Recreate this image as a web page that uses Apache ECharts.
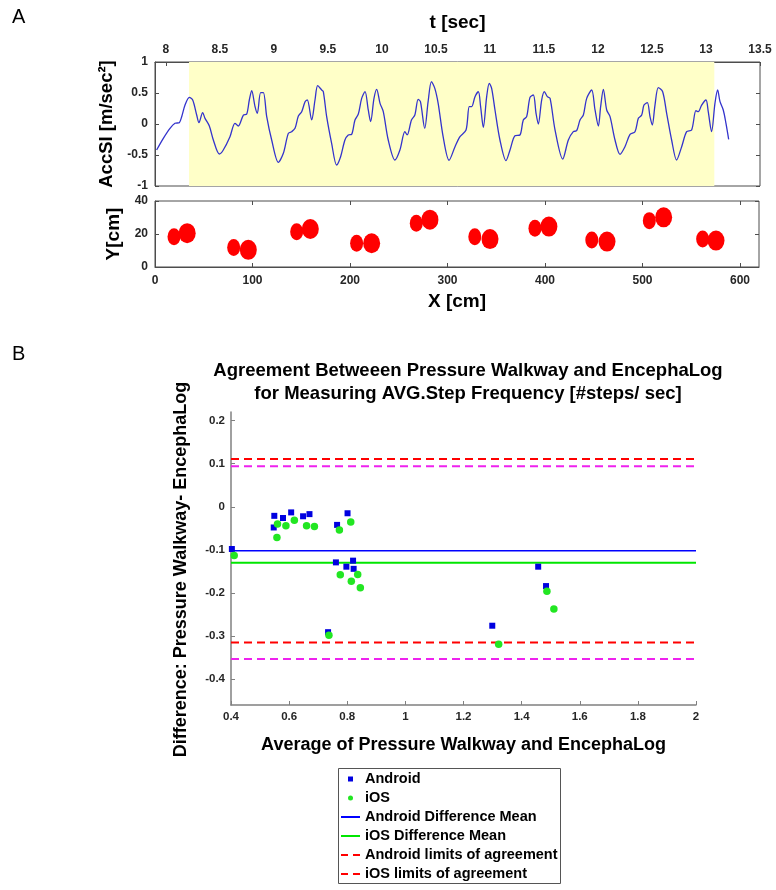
<!DOCTYPE html>
<html><head><meta charset="utf-8">
<script src="https://cdn.jsdelivr.net/npm/echarts@6/dist/echarts.min.js"></script>
<style>html,body{margin:0;padding:0;background:#fff}#c{width:776px;height:890px}</style>
</head><body><div id="c"></div>
<script>
// ---------- Panel A (top): acceleration signal ----------
const tSec = [7.915,7.977,8.039,8.085,8.125,8.147,8.178,8.218,8.249,8.286,8.307,8.341,8.363,8.403,8.440,8.496,8.532,8.594,8.640,8.671,8.718,8.749,8.773,8.795,8.826,8.847,8.878,8.903,8.934,8.980,9.042,9.088,9.134,9.165,9.196,9.227,9.258,9.289,9.310,9.350,9.381,9.406,9.443,9.458,9.489,9.535,9.581,9.618,9.658,9.689,9.720,9.751,9.782,9.813,9.844,9.874,9.896,9.927,9.952,9.983,10.013,10.059,10.121,10.167,10.213,10.234,10.274,10.305,10.336,10.357,10.397,10.428,10.459,10.490,10.521,10.567,10.622,10.677,10.723,10.779,10.809,10.831,10.862,10.893,10.914,10.939,10.970,10.994,11.016,11.047,11.093,11.149,11.186,11.232,11.278,11.309,11.340,11.371,11.402,11.427,11.448,11.479,11.504,11.532,11.557,11.603,11.674,11.726,11.772,11.803,11.834,11.865,11.896,11.942,11.973,12.004,12.025,12.050,12.081,12.112,12.158,12.204,12.250,12.297,12.343,12.374,12.405,12.426,12.457,12.482,12.503,12.528,12.559,12.599,12.636,12.682,12.728,12.775,12.821,12.867,12.907,12.929,12.960,13.000,13.021,13.052,13.083,13.108,13.130,13.160,13.185,13.210];
const accSI = [-0.419,-0.231,-0.070,0.011,0.022,0.118,0.306,0.430,0.387,0.145,0.022,0.183,0.091,-0.032,-0.258,-0.484,-0.419,-0.204,0.011,-0.032,0.145,0.161,0.387,0.538,0.280,0.172,0.505,0.505,0.118,-0.258,-0.618,-0.473,-0.151,-0.124,-0.070,0.129,0.199,0.360,0.387,0.065,0.387,0.618,0.548,0.522,0.118,-0.312,-0.661,-0.527,-0.258,-0.177,-0.167,0.065,0.161,0.414,0.521,0.226,0.038,0.414,0.559,0.333,0.199,-0.258,-0.581,-0.419,-0.124,-0.177,0.065,0.145,0.398,0.360,-0.070,0.360,0.683,0.575,0.333,-0.204,-0.585,-0.366,-0.204,-0.097,0.280,0.280,0.441,0.521,0.280,-0.054,0.441,0.656,0.575,0.226,-0.258,-0.591,-0.419,-0.188,-0.177,0.065,0.118,0.430,0.468,0.172,0.000,0.387,0.521,0.441,0.414,-0.097,-0.565,-0.258,-0.124,-0.108,0.065,0.145,0.414,0.548,0.226,-0.032,0.280,0.559,0.226,0.118,-0.258,-0.489,-0.366,-0.167,-0.124,0.091,0.145,0.306,0.344,0.118,-0.016,0.306,0.586,0.521,0.172,-0.258,-0.581,-0.366,-0.124,-0.097,0.215,0.199,0.306,0.387,0.199,-0.124,0.333,0.548,0.360,0.226,0.011,-0.247];
const highlightWindow = [8.215, 13.077];
const tTicks = [8, 8.5, 9, 9.5, 10, 10.5, 11, 11.5, 12, 12.5, 13, 13.5];

// ---------- Panel A (bottom): footprints ----------
const heelX = [19.5, 80.7, 145.3, 206.8, 268, 328, 389.7, 448, 507, 561.7];
const heelY = [18.4, 11.8, 21.4, 14.4, 26.5, 18.4, 23.5, 16.4, 28.1, 17];
const toeX  = [33, 95.7, 159.3, 222.2, 282, 343.6, 404, 463.6, 521.7, 575.4];
const toeY  = [20.5, 10.4, 23, 14.4, 28.7, 16.9, 24.5, 15.4, 30.1, 16];
const cmTicks = [0, 100, 200, 300, 400, 500, 600];

// ---------- Panel B: Bland-Altman ----------
const androidAvg  = [0.403,0.547,0.549,0.579,0.607,0.648,0.670,0.765,0.801,0.761,0.797,0.820,0.822,0.734,1.299,1.457,1.484];
const androidDiff = [-0.098,-0.048,-0.021,-0.026,-0.013,-0.022,-0.017,-0.042,-0.015,-0.129,-0.139,-0.125,-0.144,-0.291,-0.276,-0.139,-0.184];
const iosAvg  = [0.411,0.558,0.560,0.589,0.618,0.660,0.687,0.773,0.812,0.776,0.814,0.836,0.845,0.737,1.321,1.487,1.511];
const iosDiff = [-0.113,-0.071,-0.040,-0.044,-0.031,-0.044,-0.046,-0.054,-0.035,-0.158,-0.173,-0.157,-0.188,-0.298,-0.319,-0.196,-0.237];
const androidMean = -0.102;
const iosMean = -0.130;
const androidLoA = [0.111, -0.315];
const iosLoA = [0.094, -0.353];
const baX = [0.4, 2];
const baDiffTicks = [-0.4, -0.3, -0.2, -0.1, 0, 0.1, 0.2];

const FONT = "'Liberation Sans', Arial, Helvetica, sans-serif";
const lab = (size, extra) => Object.assign({fontFamily: FONT, fontWeight: 'bold', fontSize: size, color: '#262626'}, extra || {});
const BOX = '#4d4d4d';
const AX = '#808080';
const ellipse = 'path://M0,10 A10,10 0 1,1 20,10 A10,10 0 1,1 0,10 Z';
const solidIcon = 'path://M0,0h19v2h-19z';
const dashIcon = 'path://M0,0h7v2h-7z M12,0h7v2h-7z';

const hline = (v) => [[baX[0], v], [baX[1], v]];

const chart = echarts.init(document.getElementById('c'), null, {renderer: 'canvas'});
const option = {
  animation: false,
  backgroundColor: '#ffffff',
  textStyle: {fontFamily: FONT},
  title: {
    text: 'Agreement Betweeen Pressure Walkway and EncephaLog\nfor Measuring AVG.Step Frequency [#steps/ sec]',
    left: 463, top: 354, textAlign: 'center',
    textStyle: lab(18.5, {color: '#000', lineHeight: 23})
  },
  graphic: [
    {type: 'text', left: 12, top: 7, style: {text: 'A', font: "20px " + FONT, fill: '#000'}},
    {type: 'text', left: 12, top: 344, style: {text: 'B', font: "20px " + FONT, fill: '#000'}},
    {type: 'rect', shape: {x: 338.5, y: 768.5, width: 222, height: 115}, style: {fill: 'none', stroke: '#555', lineWidth: 1}, z: 0}
  ],
  legend: [
    {orient: 'vertical', left: 348, top: 771, itemWidth: 5, itemHeight: 5, itemGap: 3, padding: 0,
     selectedMode: false,
     textStyle: lab(14.5, {color: '#000', lineHeight: 16, padding: [0, 0, 0, 7]}),
     data: [{name: 'Android', icon: 'rect'}, {name: 'iOS', icon: 'circle'}]},
    {orient: 'vertical', left: 341, top: 809, itemWidth: 19, itemHeight: 2, itemGap: 3, padding: 0,
     symbolKeepAspect: true, selectedMode: false,
     textStyle: lab(14.5, {color: '#000', lineHeight: 16}),
     data: [
       {name: 'Android Difference Mean', icon: solidIcon, itemStyle: {color: '#0000ff', borderWidth: 0}},
       {name: 'iOS Difference Mean', icon: solidIcon, itemStyle: {color: '#00e600', borderWidth: 0}},
       {name: 'Android limits of agreement', icon: dashIcon, itemStyle: {color: '#ff0000', borderWidth: 0}},
       {name: 'iOS limits of agreement', icon: dashIcon, itemStyle: {color: '#ff0000', borderWidth: 0}}
     ]}
  ],
  grid: [
    {left: 155, top: 62, width: 605, height: 124, show: true, borderColor: BOX, borderWidth: 1, backgroundColor: 'transparent'},
    {left: 155, top: 201, width: 604, height: 66, show: true, borderColor: BOX, borderWidth: 1, backgroundColor: 'transparent'},
    {left: 231, top: 412, width: 465, height: 293}
  ],
  xAxis: [
    {gridIndex: 0, type: 'value', position: 'top', min: 7.9, max: 13.5,
     name: 't [sec]', nameLocation: 'middle', nameGap: 30, nameTextStyle: lab(19, {color: '#000'}),
     axisLine: {show: true, onZero: false, lineStyle: {color: BOX}},
     axisTick: {show: true, inside: true, length: 4, customValues: tTicks, lineStyle: {color: BOX}},
     axisLabel: Object.assign({customValues: tTicks, margin: 6}, lab(12)),
     splitLine: {show: false}},
    {gridIndex: 1, type: 'value', position: 'bottom', min: 0, max: 619.5,
     name: 'X [cm]', nameLocation: 'middle', nameGap: 25, nameTextStyle: lab(19, {color: '#000'}),
     axisLine: {show: true, onZero: false, lineStyle: {color: BOX}},
     axisTick: {show: true, inside: true, length: 4, customValues: cmTicks, lineStyle: {color: BOX}},
     axisLabel: Object.assign({customValues: cmTicks, margin: 8}, lab(12)),
     splitLine: {show: false}},
    {gridIndex: 1, type: 'value', position: 'top', min: 0, max: 619.5,
     axisLine: {show: false, onZero: false},
     axisTick: {show: true, inside: true, length: 4, customValues: cmTicks, lineStyle: {color: BOX}},
     axisLabel: {show: false}, splitLine: {show: false}},
    {gridIndex: 2, type: 'value', position: 'bottom', min: baX[0], max: baX[1], interval: 0.2,
     name: 'Average of Pressure Walkway and EncephaLog', nameLocation: 'middle', nameGap: 31,
     nameTextStyle: lab(18, {color: '#000'}),
     axisLine: {show: true, onZero: false, lineStyle: {color: AX, width: 1.5}},
     axisTick: {show: true, inside: true, length: 4, lineStyle: {color: AX}},
     axisLabel: Object.assign({margin: 6}, lab(11.5)),
     splitLine: {show: false}}
  ],
  yAxis: [
    {gridIndex: 0, type: 'value', min: -1, max: 1, interval: 0.5,
     name: 'AccSI [m/sec²]', nameLocation: 'middle', nameGap: 27, nameTextStyle: lab(18.5, {color: '#000'}),
     axisLine: {show: true, onZero: false, lineStyle: {color: BOX}},
     axisTick: {show: true, inside: true, length: 4, lineStyle: {color: BOX}},
     axisLabel: Object.assign({margin: 7}, lab(12)),
     splitLine: {show: false}},
    {gridIndex: 0, type: 'value', position: 'right', min: -1, max: 1, interval: 0.5,
     axisLine: {show: false, onZero: false},
     axisTick: {show: true, inside: true, length: 4, lineStyle: {color: BOX}},
     axisLabel: {show: false}, splitLine: {show: false}},
    {gridIndex: 1, type: 'value', min: 0, max: 40, interval: 20,
     name: 'Y[cm]', nameLocation: 'middle', nameGap: 27, nameTextStyle: lab(19, {color: '#000'}),
     axisLine: {show: true, onZero: false, lineStyle: {color: BOX}},
     axisTick: {show: true, inside: true, length: 4, lineStyle: {color: BOX}},
     axisLabel: Object.assign({margin: 7}, lab(12)),
     splitLine: {show: false}},
    {gridIndex: 1, type: 'value', position: 'right', min: 0, max: 40, interval: 20,
     axisLine: {show: false, onZero: false},
     axisTick: {show: true, inside: true, length: 4, lineStyle: {color: BOX}},
     axisLabel: {show: false}, splitLine: {show: false}},
    {gridIndex: 2, type: 'value', min: -0.46, max: 0.22,
     name: 'Difference: Pressure Walkway- EncephaLog', nameLocation: 'middle', nameGap: 41,
     nameTextStyle: lab(18, {color: '#000', padding: [0, 22, 0, 0]}),
     axisLine: {show: true, onZero: false, lineStyle: {color: AX, width: 1.5}},
     axisTick: {show: true, inside: true, length: 4, customValues: baDiffTicks, lineStyle: {color: AX}},
     axisLabel: Object.assign({margin: 6, customValues: baDiffTicks}, lab(11.5)),
     splitLine: {show: false}}
  ],
  series: [
    {type: 'line', name: 'AccSI', xAxisIndex: 0, yAxisIndex: 0, z: 3,
     data: tSec.map((t, i) => [t, accSI[i]]),
     showSymbol: false, symbol: 'none', smooth: 0.3,
     lineStyle: {color: '#3333cc', width: 1.3},
     markArea: {silent: true, z: 1, itemStyle: {color: '#ffffc8'},
       data: [[{xAxis: highlightWindow[0]}, {xAxis: highlightWindow[1]}]]}},
    {type: 'scatter', name: 'heel', xAxisIndex: 1, yAxisIndex: 2,
     data: heelX.map((x, i) => [x, heelY[i]]),
     symbol: ellipse, symbolKeepAspect: false, symbolSize: [13, 17], itemStyle: {color: '#ff0000', opacity: 1}},
    {type: 'scatter', name: 'toe', xAxisIndex: 1, yAxisIndex: 2,
     data: toeX.map((x, i) => [x, toeY[i]]),
     symbol: ellipse, symbolKeepAspect: false, symbolSize: [17, 20], itemStyle: {color: '#ff0000', opacity: 1}},
    {type: 'line', name: 'Android Difference Mean', xAxisIndex: 3, yAxisIndex: 4, data: hline(androidMean),
     symbol: 'none', lineStyle: {color: '#0000ff', width: 1.6}, itemStyle: {color: '#0000ff'}},
    {type: 'line', name: 'iOS Difference Mean', xAxisIndex: 3, yAxisIndex: 4, data: hline(iosMean),
     symbol: 'none', lineStyle: {color: '#00e600', width: 2}, itemStyle: {color: '#00e600'}},
    {type: 'line', name: 'Android limits of agreement', xAxisIndex: 3, yAxisIndex: 4, data: hline(androidLoA[0]),
     symbol: 'none', lineStyle: {color: '#ff0000', width: 2, type: [8, 5]}, itemStyle: {color: '#ff0000'}},
    {type: 'line', name: 'Android limits of agreement', xAxisIndex: 3, yAxisIndex: 4, data: hline(androidLoA[1]),
     symbol: 'none', lineStyle: {color: '#ff0000', width: 2, type: [8, 5]}, itemStyle: {color: '#ff0000'}},
    {type: 'line', name: 'iOS limits of agreement', xAxisIndex: 3, yAxisIndex: 4, data: hline(iosLoA[0]),
     symbol: 'none', lineStyle: {color: '#ee22ee', width: 2, type: [8, 5]}, itemStyle: {color: '#ee22ee'}},
    {type: 'line', name: 'iOS limits of agreement', xAxisIndex: 3, yAxisIndex: 4, data: hline(iosLoA[1]),
     symbol: 'none', lineStyle: {color: '#ee22ee', width: 2, type: [8, 5]}, itemStyle: {color: '#ee22ee'}},
    {type: 'scatter', name: 'Android', xAxisIndex: 3, yAxisIndex: 4, z: 4,
     data: androidAvg.map((x, i) => [x, androidDiff[i]]),
     symbol: 'rect', symbolSize: 6, itemStyle: {color: '#0000e0', opacity: 1}},
    {type: 'scatter', name: 'iOS', xAxisIndex: 3, yAxisIndex: 4, z: 5,
     data: iosAvg.map((x, i) => [x, iosDiff[i]]),
     symbol: 'circle', symbolSize: 7.5, itemStyle: {color: '#22e622', opacity: 1}}
  ]
};
chart.setOption(option);
</script>
</body></html>
